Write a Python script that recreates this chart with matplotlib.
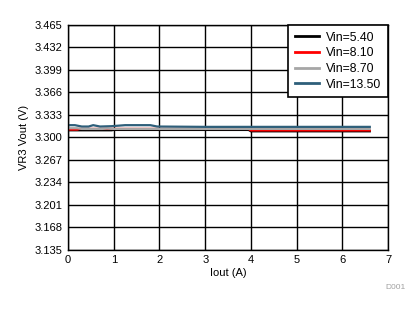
import matplotlib.pyplot as plt

plt.rcParams['font.family'] = ['Liberation Sans', 'DejaVu Sans']

# Iout (A) and VR3 Vout (V) per input voltage
iout_a = [0, 0.15, 0.3, 0.45, 0.65, 0.95, 1.0, 2.0, 3.0, 3.95, 4.0, 5.0, 6.0, 6.6]
vin_540 = [3.3105, 3.3105, 3.3105, 3.3105, 3.3105, 3.3105, 3.3110, 3.3110, 3.3110, 3.3110, 3.3090, 3.3090, 3.3090, 3.3090]

iout_b = [0, 0.2, 0.25, 0.8, 1.0, 2.0, 3.0, 3.95, 4.0, 5.0, 6.0, 6.6]
vin_810 = [3.3115, 3.3115, 3.3125, 3.3125, 3.3125, 3.3125, 3.3125, 3.3125, 3.3103, 3.3103, 3.3103, 3.3103]

iout_c = [0, 0.2, 0.3, 0.75, 0.85, 1.0, 2.0, 3.0, 4.0, 5.0, 6.0, 6.6]
vin_870 = [3.3135, 3.3135, 3.3125, 3.3125, 3.3130, 3.3125, 3.3125, 3.3125, 3.3125, 3.3125, 3.3125, 3.3125]

iout_d = [0, 0.15, 0.3, 0.45, 0.55, 0.7, 0.95, 1.25, 1.8, 1.95, 3.0, 4.0, 5.0, 6.0, 6.6]
vin_1350 = [3.3180, 3.3180, 3.3160, 3.3160, 3.3180, 3.3160, 3.3165, 3.3180, 3.3180, 3.3160, 3.3155, 3.3155, 3.3155, 3.3155, 3.3155]

yticks = [3.135, 3.168, 3.201, 3.234, 3.267, 3.300, 3.333, 3.366, 3.399, 3.432, 3.465]

fig = plt.figure(figsize=(4.2, 3.12), dpi=100)
ax = fig.add_axes([0.162, 0.199, 0.762, 0.721])

ax.plot(iout_a, vin_540, color='black', lw=1.6, label='Vin=5.40')
ax.plot(iout_b, vin_810, color='#ff0000', lw=1.6, label='Vin=8.10')
ax.plot(iout_c, vin_870, color='#a6a6a6', lw=1.6, label='Vin=8.70')
ax.plot(iout_d, vin_1350, color='#2e5f7a', lw=1.6, label='Vin=13.50')

ax.set_xlim(0, 7)
ax.set_ylim(3.135, 3.465)
ax.set_xticks(range(8))
ax.set_yticks(yticks)
ax.set_yticklabels([f'{v:.3f}' for v in yticks])
ax.tick_params(length=0, labelsize=8, pad=4)
ax.grid(True, color='black', lw=1)
for s in ax.spines.values():
    s.set_color('black')
    s.set_linewidth(1)

ax.set_xlabel('Iout (A)', fontsize=8, labelpad=2)
ax.set_ylabel('VR3 Vout (V)', fontsize=8, labelpad=4)

leg = ax.legend(loc='upper right', fontsize=8.8, frameon=True, fancybox=False,
                edgecolor='black', framealpha=1, handlelength=2.0,
                borderaxespad=0, labelspacing=0.3, handletextpad=0.55,
                borderpad=0.55)
leg.get_frame().set_linewidth(1.2)
for h in leg.get_lines():
    h.set_linewidth(2)

fig.text(0.965, 0.075, 'D001', fontsize=6, color='#a0a0a0', ha='right')

fig.savefig('out.png', dpi=100)
